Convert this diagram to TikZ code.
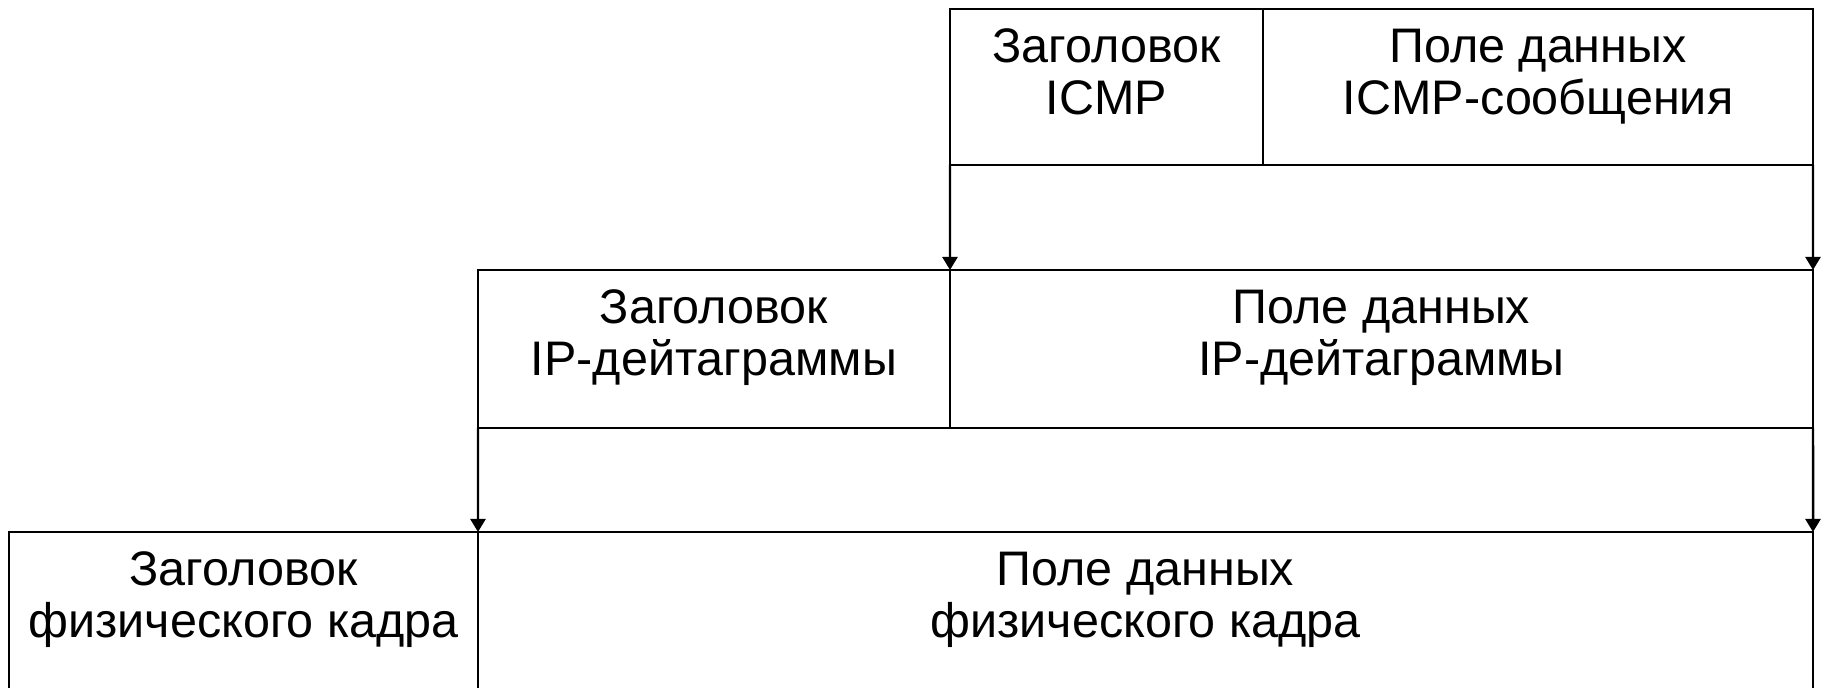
\documentclass[tikz,border=0pt]{standalone}
\usepackage{fontspec}
\setmainfont{Liberation Sans}
\usetikzlibrary{arrows.meta,positioning}
\tikzset{
  every node/.style={font=\fontsize{13.8}{14.8}\selectfont},
  cell/.style={draw, rectangle, inner sep=0pt, outer sep=0pt, line width=0.7pt},
  txt/.style={align=center, inner sep=0pt},
  arr/.style={-{Triangle[length=0.13cm, width=0.15cm]}, line width=0.7pt},
}
\begin{document}
\begin{tikzpicture}
  \useasboundingbox (0,0) rectangle (18.21,6.88);
  % ---- top row: ICMP message ---------------------------------------------
  \node[cell, anchor=north west, minimum width=3.13cm, minimum height=1.56cm] (icmphdr) at (9.50,6.79) {};
  \node[cell, right=0pt of icmphdr, minimum width=5.50cm, minimum height=1.56cm] (icmpdata) {};
  \node[txt, below=0.19cm of icmphdr.north] (icmphdrtxt) {Заголовок\\ICMP};
  \node[txt, below=0.19cm of icmpdata.north] (icmpdatatxt) {Поле данных\\ICMP-сообщения};

  % ---- middle row: IP datagram -------------------------------------------
  \node[cell, anchor=north west, minimum width=4.72cm, minimum height=1.58cm] (iphdr) at (4.78,4.18) {};
  \node[cell, right=0pt of iphdr, minimum width=8.63cm, minimum height=1.58cm] (ipdata) {};
  \node[txt, below=0.19cm of iphdr.north] (iphdrtxt) {Заголовок\\IP-дейтаграммы};
  \node[txt, below=0.19cm of ipdata.north] (ipdatatxt) {Поле данных\\IP-дейтаграммы};

  % ---- bottom row: physical frame ----------------------------------------
  \node[cell, anchor=north west, minimum width=4.69cm, minimum height=1.61cm] (framehdr) at (0.09,1.56) {};
  \node[cell, right=0pt of framehdr, minimum width=13.35cm, minimum height=1.61cm] (framedata) {};
  \node[txt, below=0.19cm of framehdr.north] (framehdrtxt) {Заголовок\\физического кадра};
  \node[txt, below=0.19cm of framedata.north] (framedatatxt) {Поле данных\\физического кадра};

  \draw[arr] (icmphdr.south west) -- (ipdata.north west);
  \draw[arr] (icmpdata.south east) -- (ipdata.north east);
  \draw[arr] (iphdr.south west) -- (framedata.north west);
  \draw[arr] (ipdata.south east) -- (framedata.north east);
\end{tikzpicture}
\end{document}
